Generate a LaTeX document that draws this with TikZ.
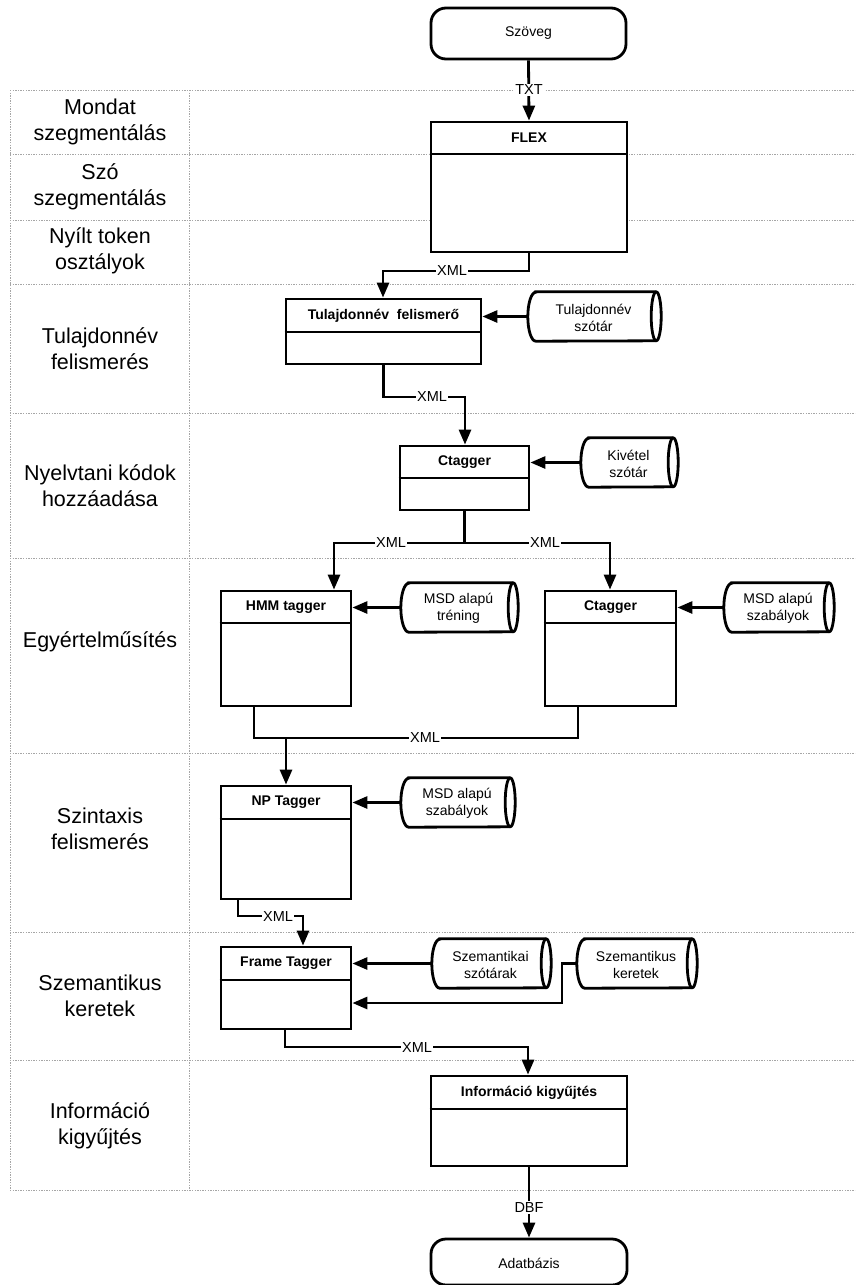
\documentclass[tikz,border=0pt]{standalone}
\usepackage{fontspec}
\setmainfont{Liberation Sans}
\usetikzlibrary{arrows.meta,fit,calc}

\tikzset{
  lane/.style={gray!70, line width=0.9pt, dash pattern=on 1.3pt off 1.3pt},
  lanelabel/.style={font=\fontsize{21.5}{26}\selectfont, align=center, inner sep=0pt},
  proc/.style={draw, line width=2.8pt, fill=white, inner sep=0pt},
  term/.style={draw, line width=2.8pt, fill=white, inner sep=0pt, rounded corners=15pt},
  termtext/.style={font=\fontsize{14}{17}\selectfont, inner sep=0pt},
  headtext/.style={font=\fontsize{14}{17}\selectfont\bfseries, inner sep=0pt},
  storetext/.style={inner sep=0pt, font=\fontsize{14}{17}\selectfont, align=center},
  hull/.style={inner sep=0pt},
  link/.style={line width=2.8pt},
  flow/.style={line width=2.8pt, -{Triangle[length=15pt,width=12pt]}},
  tag/.style={font=\fontsize{14.5}{17}\selectfont, fill=white, inner sep=1.5pt},
}

% outline of a horizontal data store around a fitted node
\newcommand\storeoutline[1]{%
  \draw[link] ([xshift=8pt]#1.north west) -- ([xshift=-5pt]#1.north east)
     arc[start angle=90, end angle=-90, x radius=5pt, y radius=24.5pt]
     -- ([xshift=8pt]#1.south west)
     arc[start angle=270, end angle=90, x radius=8pt, y radius=24.5pt] -- cycle;
  \draw[link] ([xshift=-5pt]#1.north east)
     arc[start angle=90, end angle=270, x radius=5pt, y radius=24.5pt];
}

% process box with a header band
\newcommand\procbox[8]{% name, left, top, right, bottom, divider, text y, text
  \node[proc, fit={(#2,#3) (#4,#5)}] (#1) {};
  \draw[link] (#1.west |- 0,#6) -- (#1.east |- 0,#6);
  \node[headtext] (#1head) at ($(#1.west |- 0,#7)!0.5!(#1.east |- 0,#7)$) {#8};
}

% data store: name, left, top, right, bottom, text
\newcommand\datastore[6]{%
  \node[hull, fit={(#2,#3) (#4,#5)}] (#1) {};
  \storeoutline{#1}
  \node[storetext] (#1text) at ([xshift=-1pt,yshift=-1pt]#1.center) {#6};
}

\begin{document}
\begin{tikzpicture}[x=1pt, y=-1pt]
\useasboundingbox (0,0) rectangle (855,1285);

% swimlane grid
\foreach \y in {90,154,220,284,413,558,753,932,1060,1190}
  \draw[lane] (10,\y) -- (855,\y);
\draw[lane] (10,90) -- (10,1190);
\draw[lane] (189,90) -- (189,1190);

% lane titles
\node[lanelabel] (l1) at (100,122) {Mondat\\szegmentálás};
\node[lanelabel] (l2) at (100,187) {Szó\\szegmentálás};
\node[lanelabel] (l3) at (100,251) {Nyílt token\\osztályok};
\node[lanelabel] (l4) at (100,349) {Tulajdonnév\\felismerés};
\node[lanelabel] (l5) at (100,486) {Nyelvtani kódok\\hozzáadása};
\node[lanelabel] (l6) at (100,642) {Egyértelműsítés};
\node[lanelabel] (l7) at (100,829) {Szintaxis\\felismerés};
\node[lanelabel] (l8) at (100,996) {Szemantikus\\keretek};
\node[lanelabel] (l9) at (100,1126) {Információ\\kigyűjtés};

% terminators
\node[term, fit={(431,8) (626,59)}] (szoveg) {};
\node[termtext] (szovegtext) at (szoveg.center) {Szöveg};
\node[term, fit={(431,1239) (627,1285)}] (adat) {};
\node[termtext] (adattext) at (529,1263) {Adatbázis};

% processes
\procbox{flex}{431}{122}{627}{252}{154}{138}{FLEX}
\procbox{tulaj}{286}{299}{481}{364}{332}{316}{Tulajdonnév\ \ felismerő}
\procbox{ctagA}{400}{446}{529}{510}{478}{462}{Ctagger}
\procbox{hmm}{221}{591}{351}{706}{623}{607}{HMM tagger}
\procbox{ctagB}{545}{591}{676}{706}{623}{607}{Ctagger}
\procbox{np}{221}{786}{351}{899}{819}{802}{NP Tagger}
\procbox{frame}{221}{947}{351}{1029}{980}{963}{Frame Tagger}
\procbox{info}{431}{1076}{627}{1166}{1109}{1093}{Információ kigyűjtés}

% data stores
\datastore{c1}{528}{292}{661}{341}{Tulajdonnév\\szótár}
\datastore{c2}{581}{438}{678}{487}{Kivétel\\szótár}
\datastore{c3}{401}{583}{518}{632}{MSD alapú\\tréning}
\datastore{c4}{724}{583}{834}{632}{MSD alapú\\szabályok}
\datastore{c5}{401}{778}{515}{827}{MSD alapú\\szabályok}
\datastore{c6}{432}{939}{551}{988}{Szemantikai\\szótárak}
\datastore{c7}{577}{939}{697}{988}{Szemantikus\\keretek}

% bend points
\coordinate (b1) at (383,271);
\coordinate (b2) at (465,397);
\coordinate (s1) at (334,543);
\coordinate (s2) at (610,543);
\coordinate (m1) at (254,738);
\coordinate (m2) at (578,738);
\coordinate (n1) at (238,916);
\coordinate (n2) at (303,916);
\coordinate (k1) at (562,1003);
\coordinate (f1) at (285,1047);
\coordinate (f2) at (528,1047);

% main flow
\draw[flow] (szoveg.south) -- (flex.north);
\draw[flow] (flex.south) |- (b1) -- (b1 |- tulaj.north);
\draw[flow] (tulaj.south) |- (b2) -- (b2 |- ctagA.north);
\draw[link] (ctagA.south) -- (ctagA.south |- s1);
\draw[flow] (ctagA.south |- s1) -- (s1) -- (s1 |- hmm.north);
\draw[flow] (ctagA.south |- s2) -- (s2) -- (s2 |- ctagB.north);
\draw[link] (m1 |- hmm.south) -- (m1) -- (m2) -- (m2 |- ctagB.south);
\draw[flow] (np.north |- m1) -- (np.north);
\draw[flow] (n1 |- np.south) -- (n1) -- (n2) -- (n2 |- frame.north);
\draw[flow] (f1 |- frame.south) -- (f1) -- (f2) -- (f2 |- info.north);
\draw[flow] (info.south) -- (adat.north);

% resources feeding the processes
\draw[flow] (c1.west) -- (c1.west -| tulaj.east);
\draw[flow] (c2.west) -- (c2.west -| ctagA.east);
\draw[flow] (c3.west) -- (c3.west -| hmm.east);
\draw[flow] (c4.west) -- (c4.west -| ctagB.east);
\draw[flow] (c5.west) -- (c5.west -| np.east);
\draw[flow] (c6.west) -- (c6.west -| frame.east);
\draw[flow] (c7.west) -| (k1) -- (k1 -| frame.east);

% format tags on the connectors
\node[tag] (t0) at (529,90) {TXT};
\node[tag] (t1) at (452,271) {XML};
\node[tag] (t2) at (432,397) {XML};
\node[tag] (t3) at (391,543) {XML};
\node[tag] (t4) at (545,543) {XML};
\node[tag] (t5) at (425,738) {XML};
\node[tag] (t6) at (278,916) {XML};
\node[tag] (t7) at (417,1047) {XML};
\node[tag] (t8) at (529,1207) {DBF};
\end{tikzpicture}
\end{document}
